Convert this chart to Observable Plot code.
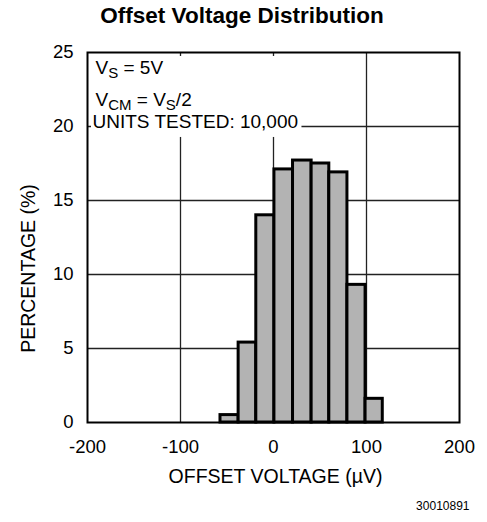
<!DOCTYPE html>
<html>
<head>
<meta charset="utf-8">
<script src="https://cdn.jsdelivr.net/npm/d3@7"></script>
<script src="https://cdn.jsdelivr.net/npm/@observablehq/plot@0.6"></script>
<style>
  html, body { margin: 0; padding: 0; background: #fff; }
  svg text { font-family: "Liberation Sans", Arial, Helvetica, sans-serif; }
</style>
</head>
<body>
<div id="chart"></div>
<script>
// ---- data ----
const binEdges = [-57, -37.5, -18.5, 1, 21, 41, 60, 79.5, 99, 117.5]; // µV
const percentages = [0.5, 5.4, 14.0, 17.1, 17.7, 17.5, 16.9, 9.3, 1.6];   // %
const xTicks = [-200, -100, 0, 100, 200];
const yTicks = [0, 5, 10, 15, 20, 25];
const xGrid = [-100, 0, 100];
const yGrid = [5, 10, 15, 20];
const titleText = "Offset Voltage Distribution";
const xLabel = "OFFSET VOLTAGE (\u00B5V)";
const yLabel = "PERCENTAGE (%)";
const notes = ["V{S} = 5V", "V{CM} = V{S}/2", "UNITS TESTED: 10,000"];
const figureId = "30010891";

const bins = percentages.map((p, i) => ({x1: binEdges[i], x2: binEdges[i + 1], pct: p}));
// white background behind the annotation block (in data units)
const noteBox = [{x1: -195.7, x2: 30.6, y1: 19.26, y2: 24.73}];

const FONT = "Liberation Sans, Arial, Helvetica, sans-serif";
const txt = (data, opts) => Plot.text(data, {lineAnchor: "middle", fill: "#000", ...opts});

const chart = Plot.plot({
  width: 487,
  height: 522,
  marginTop: 52,
  marginRight: 28,
  marginBottom: 100,
  marginLeft: 87,
  style: {fontFamily: FONT, fontSize: "18px", color: "#000", background: "#fff"},
  x: {domain: [-200, 200]},
  y: {domain: [0, 25]},
  marks: [
    Plot.ruleX(xGrid, {stroke: "#222", strokeWidth: 1.3}),
    Plot.ruleY(yGrid, {stroke: "#222", strokeWidth: 1.3}),
    Plot.rect(noteBox, {x1: "x1", x2: "x2", y1: "y1", y2: "y2", fill: "white"}),
    txt([notes[0]], {frameAnchor: "top-left", dx: 8, dy: 15, textAnchor: "start", fontSize: 19}),
    txt([notes[1]], {frameAnchor: "top-left", dx: 8, dy: 47, textAnchor: "start", fontSize: 19}),
    txt([notes[2]], {frameAnchor: "top-left", dx: 5, dy: 69.5, textAnchor: "start", fontSize: 19}),
    Plot.rectY(bins, {x1: "x1", x2: "x2", y: "pct", fill: "#b3b3b3", stroke: "#000", strokeWidth: 3}),
    Plot.frame({stroke: "#000", strokeWidth: 2}),
    Plot.axisX(xTicks, {tickSize: 0, tickPadding: 17, label: null, tickFormat: d => String(d), fontSize: 18.5}),
    Plot.axisY(yTicks, {tickSize: 0, tickPadding: 14, label: null, tickFormat: d => String(d), fontSize: 18.5}),
    txt([titleText], {frameAnchor: "top", textAnchor: "middle", dx: -31.5, dy: -37, fontSize: 22.5, fontWeight: "bold"}),
    txt([xLabel], {frameAnchor: "bottom", textAnchor: "middle", dx: 2, dy: 54, fontSize: 19.5}),
    txt([yLabel], {frameAnchor: "left", textAnchor: "middle", dx: -59, dy: 31, rotate: -90, fontSize: 19.5}),
    txt([figureId], {frameAnchor: "bottom-right", dx: 10, dy: 84, textAnchor: "end", fontSize: 12})
  ]
});

// render subscripts written as X{sub}
chart.querySelectorAll("text").forEach(t => {
  const s = t.textContent;
  if (!/\{[^}]+\}/.test(s) || t.children.length > 0) return;
  const parts = s.split(/(\{[^}]+\})/).filter(p => p.length);
  t.textContent = "";
  let shifted = false;
  for (const p of parts) {
    const ts = document.createElementNS("http://www.w3.org/2000/svg", "tspan");
    if (p.startsWith("{")) {
      ts.textContent = p.slice(1, -1);
      ts.setAttribute("font-size", "15");
      ts.setAttribute("dy", "4");
      shifted = true;
    } else {
      ts.textContent = p;
      if (shifted) { ts.setAttribute("dy", "-4"); shifted = false; }
    }
    t.appendChild(ts);
  }
});

document.getElementById("chart").appendChild(chart);
</script>
</body>
</html>
